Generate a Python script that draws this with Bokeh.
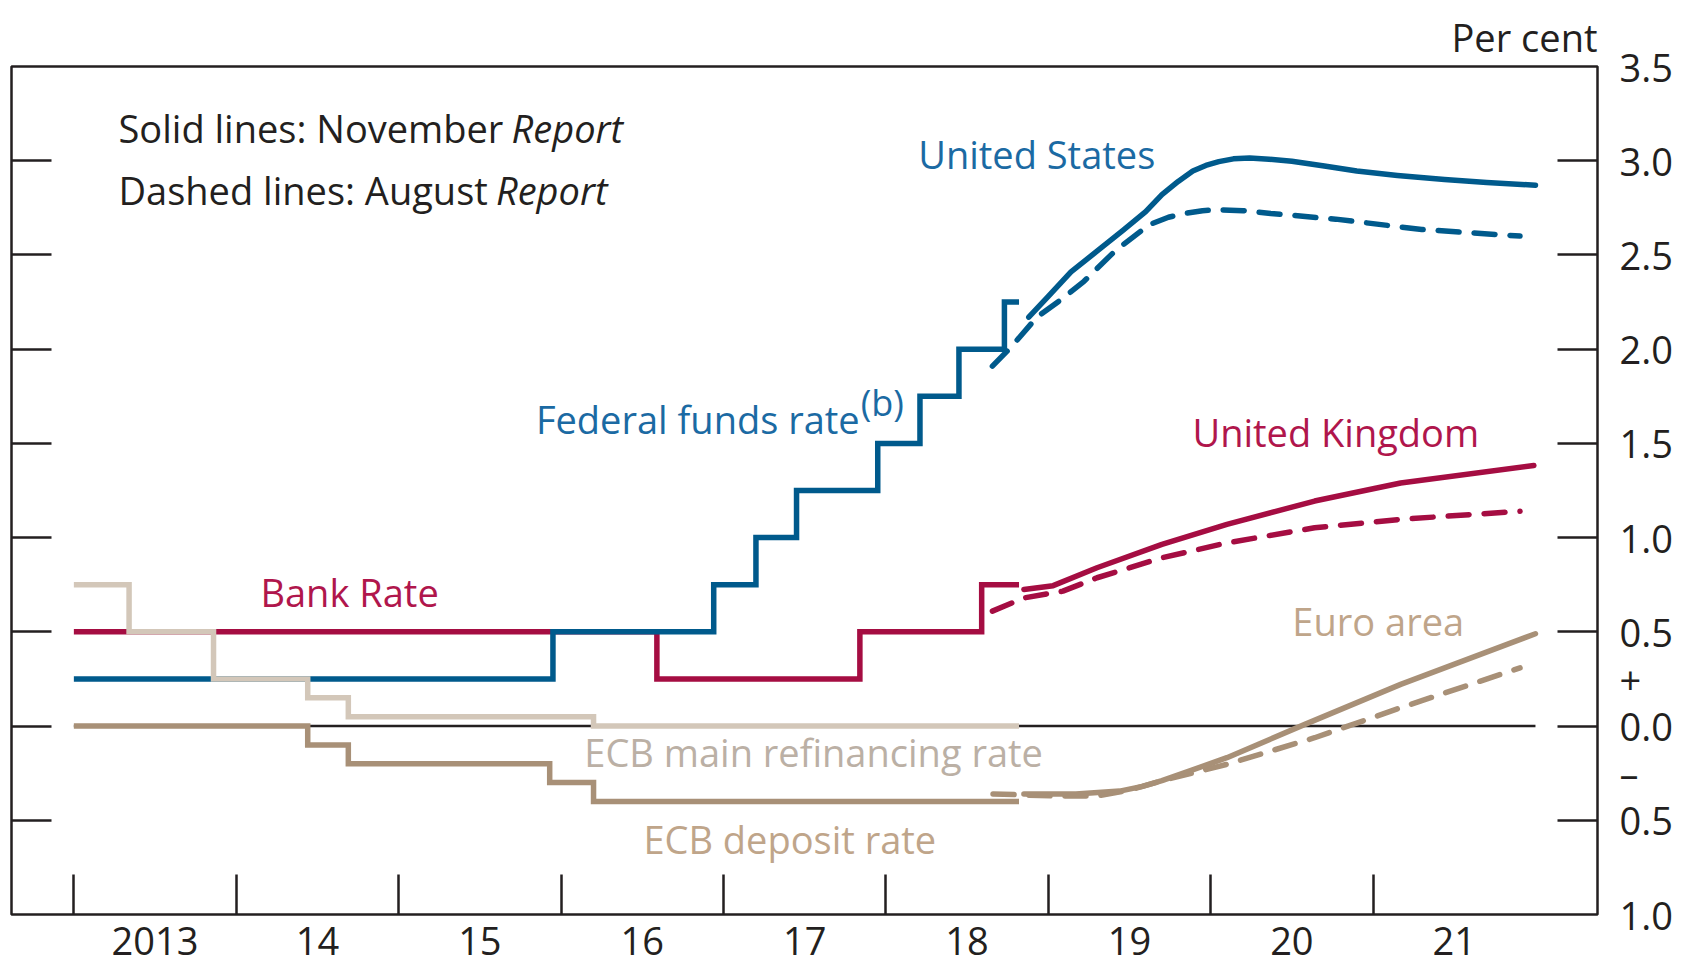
from bokeh.plotting import figure
from bokeh.models import Range1d, LinearAxis, FixedTicker
from bokeh.core.properties import value
from bokeh.embed import file_html
from bokeh.resources import INLINE

FONT = "Open Sans"

# ---------------- axes ----------------
YEAR_STARTS = [2013, 2014, 2015, 2016, 2017, 2018, 2019, 2020, 2021]
YEAR_LABEL_POS = [2013.5, 2014.5, 2015.5, 2016.5, 2017.5, 2018.5, 2019.5, 2020.5, 2021.5]
YEAR_LABELS = ["2013", "14", "15", "16", "17", "18", "19", "20", "21"]

Y_TICKS = [-1.0, -0.5, 0.0, 0.5, 1.0, 1.5, 2.0, 2.5, 3.0, 3.5]
Y_TICK_LABELS = ["1.0", "0.5", "0.0", "0.5", "1.0", "1.5", "2.0", "2.5", "3.0", "3.5"]
SIGN_POS = [0.25, -0.25]
SIGN_LABELS = ["+", "\u2013"]
UNITS = "Per cent"

# ---------------- policy rates (value holds from date to next date) ----------------
BANK_RATE_X = [2013.0, 2016.59, 2017.84, 2018.59, 2018.82]
BANK_RATE_Y = [0.50, 0.25, 0.50, 0.75, 0.75]

FED_X = [2013.0, 2015.95, 2016.94, 2017.20, 2017.45, 2017.95, 2018.21, 2018.45, 2018.73, 2018.82]
FED_Y = [0.25, 0.50, 0.75, 1.00, 1.25, 1.50, 1.75, 2.00, 2.25, 2.25]

ECB_MRO_X = [2013.0, 2013.34, 2013.86, 2014.44, 2014.69, 2016.20, 2018.82]
ECB_MRO_Y = [0.75, 0.50, 0.25, 0.15, 0.05, 0.00, 0.00]

ECB_DEP_X = [2013.0, 2014.44, 2014.69, 2015.93, 2016.20, 2018.82]
ECB_DEP_Y = [0.00, -0.10, -0.20, -0.30, -0.40, -0.40]

# ---------------- market-implied paths ----------------
US_NOV_X = [2018.88, 2019.00, 2019.14, 2019.30, 2019.46, 2019.60, 2019.70, 2019.80, 2019.89, 2019.97, 2020.05, 2020.14, 2020.24, 2020.36, 2020.50, 2020.70, 2020.90, 2021.15, 2021.44, 2021.70, 2022.00]
US_NOV_Y = [2.17, 2.28, 2.41, 2.52, 2.63, 2.73, 2.82, 2.89, 2.945, 2.975, 2.995, 3.010, 3.015, 3.008, 2.997, 2.972, 2.945, 2.922, 2.90, 2.884, 2.87]
US_AUG_X = [2018.656, 2018.77, 2018.93, 2019.09, 2019.22, 2019.41, 2019.62, 2019.74, 2019.84, 2019.95, 2020.05, 2020.20, 2020.37, 2020.77, 2021.30, 2021.905]
US_AUG_Y = [1.91, 2.01, 2.17, 2.27, 2.36, 2.52, 2.66, 2.70, 2.72, 2.735, 2.74, 2.735, 2.72, 2.69, 2.635, 2.60]

UK_NOV_X = [2018.85, 2019.03, 2019.30, 2019.70, 2020.10, 2020.64, 2021.17, 2021.99]
UK_NOV_Y = [0.725, 0.745, 0.84, 0.964, 1.07, 1.194, 1.29, 1.383]
UK_AUG_X = [2018.656, 2018.85, 2019.09, 2019.30, 2019.70, 2020.10, 2020.64, 2021.17, 2021.905]
UK_AUG_Y = [0.61, 0.68, 0.716, 0.787, 0.893, 0.972, 1.052, 1.097, 1.14]

EA_NOV_X = [2018.85, 2019.17, 2019.44, 2019.58, 2019.70, 2019.88, 2020.10, 2020.58, 2021.17, 2022.00]
EA_NOV_Y = [-0.36, -0.36, -0.345, -0.32, -0.29, -0.235, -0.168, 0.009, 0.221, 0.49]
EA_AUG_X = [2018.66, 2019.03, 2019.30, 2019.50, 2019.70, 2020.10, 2020.64, 2021.17, 2021.905]
EA_AUG_Y = [-0.36, -0.371, -0.371, -0.34, -0.29, -0.203, -0.062, 0.097, 0.309]

ZERO_LINE_X = [2013.0, 2022.0]
ZERO_LINE_Y = [0.0, 0.0]

# ---------------- colours ----------------
DARK = "#231F20"
BLUE = "#005A8C"
BLUE_TXT = "#1B6AA3"
RED = "#A50D42"
RED_TXT = "#B0164C"
TAN = "#A89077"
TAN_TXT = "#BFA58A"
LIGHT = "#D3C7B9"
LIGHT_TXT = "#BBB0A5"

LW = 5.5
DASH = "21 15"
TXT_SHIFT = 0.074  # baseline correction for text glyphs

p = figure(
    width=1681, height=970,
    x_range=Range1d(2012.616, 2022.382), y_range=Range1d(-1.0, 3.5),
    output_backend="svg", toolbar_location=None,
    x_axis_location=None, y_axis_location=None,
    min_border_left=11, min_border_right=84, min_border_top=66, min_border_bottom=56,
    title=UNITS,
)
p.grid.visible = False
p.outline_line_color = DARK
p.outline_line_width = 2.5
p.background_fill_color = "white"
p.border_fill_color = "white"

p.title.align = "right"
p.title.vertical_align = "top"
p.title.text_font = FONT
p.title.text_font_size = "38px"
p.title.text_font_style = "normal"
p.title.text_color = DARK
p.title.standoff = 4

# bottom axis: ticks at year starts (minor), labels at mid-year (major)
xa = LinearAxis(
    ticker=FixedTicker(ticks=YEAR_LABEL_POS, minor_ticks=YEAR_STARTS),
    major_label_overrides={k: v for k, v in zip(YEAR_LABEL_POS, YEAR_LABELS)},
    major_tick_in=0, major_tick_out=0,
    minor_tick_in=40, minor_tick_out=0,
    minor_tick_line_width=2.5, minor_tick_line_color=DARK,
    axis_line_color=None,
    major_label_text_font=FONT, major_label_text_font_size="38px",
    major_label_text_color=DARK, major_label_standoff=12,
)
p.add_layout(xa, "below")

tick_vals = [t for t in Y_TICKS if -1.0 < t < 3.5]

# left axis: inward ticks only
la = LinearAxis(
    ticker=FixedTicker(ticks=tick_vals),
    major_label_overrides={k: "" for k in tick_vals},
    major_tick_in=40, major_tick_out=0, minor_tick_in=0, minor_tick_out=0,
    major_tick_line_width=2.5, major_tick_line_color=DARK,
    axis_line_color=None,
    major_label_text_font_size="0px", major_label_standoff=0,
)
p.add_layout(la, "left")

# right axis (ticks only), nearest to frame
ra_ticks = LinearAxis(
    ticker=FixedTicker(ticks=tick_vals),
    major_label_overrides={k: "" for k in tick_vals},
    major_tick_in=40, major_tick_out=0, minor_tick_in=0, minor_tick_out=0,
    major_tick_line_width=2.5, major_tick_line_color=DARK,
    axis_line_color=None,
    major_label_text_font_size="0px", major_label_standoff=0,
)
p.add_layout(ra_ticks, "right")

# right axis labels (values plus +/- signs)
lab_pos = Y_TICKS + SIGN_POS
lab_txt = Y_TICK_LABELS + SIGN_LABELS
ra_labels = LinearAxis(
    ticker=FixedTicker(ticks=lab_pos),
    major_label_overrides={k: v for k, v in zip(lab_pos, lab_txt)},
    major_tick_in=0, major_tick_out=0, minor_tick_in=0, minor_tick_out=0,
    axis_line_color=None,
    major_label_text_font=FONT, major_label_text_font_size="38px",
    major_label_text_color=DARK, major_label_standoff=22,
)
p.add_layout(ra_labels, "right")

# zero line
p.line(ZERO_LINE_X, ZERO_LINE_Y, line_color=DARK, line_width=2.5)

# policy rates
p.step(BANK_RATE_X, BANK_RATE_Y, mode="after", line_color=RED, line_width=LW, line_join="miter")
p.step(FED_X, FED_Y, mode="after", line_color=BLUE, line_width=LW, line_join="miter")
p.step(ECB_DEP_X, ECB_DEP_Y, mode="after", line_color=TAN, line_width=LW, line_join="miter")
p.step(ECB_MRO_X, ECB_MRO_Y, mode="after", line_color=LIGHT, line_width=LW, line_join="miter")

# August paths (dashed)
p.line(US_AUG_X, US_AUG_Y, line_color=BLUE, line_width=LW, line_dash=DASH, line_cap="round")
p.line(UK_AUG_X, UK_AUG_Y, line_color=RED, line_width=LW, line_dash=DASH, line_cap="round")
p.line(EA_AUG_X, EA_AUG_Y, line_color=TAN, line_width=LW, line_dash=DASH, line_cap="round")
# November paths (solid)
p.line(US_NOV_X, US_NOV_Y, line_color=BLUE, line_width=LW, line_cap="round", line_join="round")
p.line(UK_NOV_X, UK_NOV_Y, line_color=RED, line_width=LW, line_cap="round", line_join="round")
p.line(EA_NOV_X, EA_NOV_Y, line_color=TAN, line_width=LW, line_cap="round", line_join="round")

# annotations
def label(x, y, txt, color, size="38px", style="normal"):
    p.text(x=[x], y=[y + TXT_SHIFT], text=[txt], text_font=value(FONT), text_font_size=size,
           text_color=color, text_align="left", text_baseline="alphabetic",
           text_font_style=style)

label(2013.275, 3.097, "Solid lines: November ", DARK)
label(2015.695, 3.097, "Report", DARK, style="italic")
label(2013.275, 2.773, "Dashed lines: August ", DARK)
label(2015.599, 2.773, "Report", DARK, style="italic")

label(2018.199, 2.960, "United States", BLUE_TXT)
label(2015.845, 1.553, "Federal funds rate", BLUE_TXT)
label(2017.845, 1.643, "(b)", BLUE_TXT, size="36px")
label(2019.888, 1.489, "United Kingdom", RED_TXT)
label(2014.149, 0.640, "Bank Rate", RED_TXT)
label(2020.503, 0.481, "Euro area", TAN_TXT)
label(2016.143, -0.210, "ECB main refinancing rate", LIGHT_TXT)
label(2016.507, -0.672, "ECB deposit rate", TAN_TXT)

open("out.html", "w").write(file_html(p, INLINE))
